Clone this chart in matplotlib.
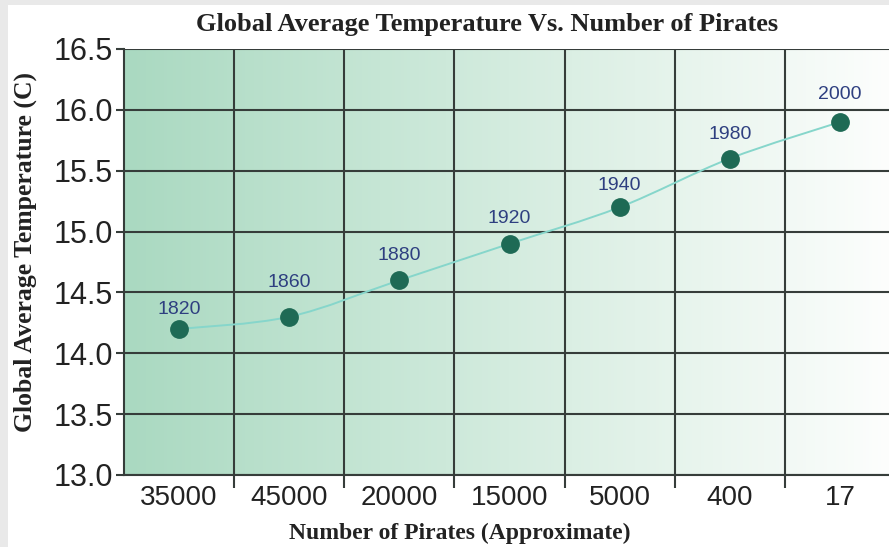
import matplotlib
matplotlib.use("Agg")
import matplotlib.pyplot as plt
import numpy as np
from matplotlib.path import Path
from matplotlib.patches import PathPatch, Rectangle
from matplotlib.colors import LinearSegmentedColormap

# Data
pirates = ['35000', '45000', '20000', '15000', '5000', '400', '17']
years = ['1820', '1860', '1880', '1920', '1940', '1980', '2000']
temps = [14.2, 14.3, 14.6, 14.9, 15.2, 15.6, 15.9]
yticks = [13.0, 13.5, 14.0, 14.5, 15.0, 15.5, 16.0, 16.5]
# vertical offset (points) of each year label above its dot
label_dy = [14, 25, 18, 18, 16, 17, 20]

fig = plt.figure(figsize=(8.89, 5.47), dpi=100)
fig.patch.set_facecolor('white')
# light grey frame on the top and left edges
fig.patches.append(Rectangle((0, 0), 8 / 889, 1, transform=fig.transFigure,
                             facecolor='#e9e9e9', edgecolor='none', zorder=-5))
fig.patches.append(Rectangle((0, 1 - 5 / 547), 1, 5 / 547, transform=fig.transFigure,
                             facecolor='#e9e9e9', edgecolor='none', zorder=-5))

ax = fig.add_axes([124 / 889, 1 - 475 / 547, 771 / 889, 426 / 547])
x = np.arange(len(pirates))
ax.set_xlim(-0.5, len(pirates) - 0.5)
ax.set_ylim(13.0, 16.5)

# green-to-white gradient background
cmap = LinearSegmentedColormap.from_list('g', ['#aad9c1', '#c6e6d5', '#e2f2e9', '#fdfefd'])
grad = np.linspace(0, 1, 256).reshape(1, -1)
ax.imshow(grad, cmap=cmap, aspect='auto', extent=(-0.5, len(pirates) - 0.5, 13.0, 16.5),
          zorder=0, interpolation='bicubic')

# grid
for yv in yticks:
    ax.axhline(yv, color='#363d3a', lw=1.5, zorder=1)
for b in np.arange(0.5, len(pirates) - 0.5, 1):
    ax.axvline(b, color='#363d3a', lw=1.5, zorder=1)

# smooth line through points (Catmull-Rom -> Bezier)
pts = np.column_stack([x, temps])
verts = [tuple(pts[0])]
codes = [Path.MOVETO]
for i in range(len(pts) - 1):
    p0 = pts[i - 1] if i > 0 else pts[i]
    p1, p2 = pts[i], pts[i + 1]
    p3 = pts[i + 2] if i + 2 < len(pts) else pts[i + 1]
    c1 = p1 + (p2 - p0) / 6
    c2 = p2 - (p3 - p1) / 6
    verts += [tuple(c1), tuple(c2), tuple(p2)]
    codes += [Path.CURVE4] * 3
ax.add_patch(PathPatch(Path(verts, codes), facecolor='none', edgecolor='#86d6cb',
                       lw=1.4, zorder=2))

ax.plot(x, temps, 'o', color='#1e6a55', markersize=12.5, zorder=3)
for xi, t, yr, dy in zip(x, temps, years, label_dy):
    ax.annotate(yr, (xi, t), xytext=(0, dy), textcoords='offset points',
                ha='center', va='center', color='#2e3f80', fontsize=14,
                family='Liberation Sans', zorder=4)

ax.set_xticks(x)
ax.set_xticklabels(pirates, fontsize=20, family='Liberation Sans', color='#222222')
ax.set_xticks(np.arange(0.5, len(pirates) - 0.5, 1), minor=True)
ax.tick_params(axis='x', which='major', length=0, pad=7)
ax.tick_params(axis='x', which='minor', length=9, width=1.5, color='#363d3a', direction='out')
ax.set_yticks(yticks)
ax.set_yticklabels([f'{v:.1f}' for v in yticks], fontsize=22, family='Liberation Sans',
                   color='#222222')
ax.tick_params(axis='y', length=6, width=1.5, color='#363d3a', pad=2)

for s in ['left', 'bottom']:
    ax.spines[s].set_color('#363d3a')
    ax.spines[s].set_linewidth(1.5)
ax.spines['right'].set_visible(False)
ax.spines['top'].set_visible(False)

fig.text(487 / 889, 1 - 24 / 547, 'Global Average Temperature Vs. Number of Pirates',
         ha='center', va='center', fontsize=19, fontweight='bold',
         family='Liberation Serif', color='#222222')
fig.text(460 / 889, 1 - 533 / 547, 'Number of Pirates (Approximate)',
         ha='center', va='center', fontsize=17, fontweight='bold',
         family='Liberation Serif', color='#222222')
fig.text(25 / 889, 1 - 252 / 547, 'Global Average Temperature (C)',
         ha='center', va='center', rotation=90, fontsize=18.5, fontweight='bold',
         family='Liberation Serif', color='#222222')

fig.savefig('out.png', dpi=100)
